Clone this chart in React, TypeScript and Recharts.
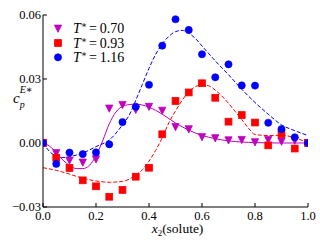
import React from 'react';
import {
  ComposedChart,
  Label,
  Legend,
  Line,
  Scatter,
  XAxis,
  YAxis,
} from 'recharts';

// measured points, x2 = 0.00 .. 1.00 step 0.05
const X_POINTS = [
  0, 0.05, 0.1, 0.15, 0.2, 0.25, 0.3, 0.35, 0.4, 0.45, 0.5, 0.55, 0.6, 0.65,
  0.7, 0.75, 0.8, 0.85, 0.9, 0.95, 1.0,
];
const Y_T070 = [
  0, -0.0048, -0.0083, -0.0092, -0.0077, 0.0161, 0.0178, 0.0155, 0.0169,
  0.0151, 0.0074, 0.0064, 0.0027, 0.0022, 0.0012, 0.0014, 0.0003, 0.0014,
  0.0006, 0.0011, 0,
];
const Y_T093 = [
  0, -0.0069, -0.0117, -0.0175, -0.0203, -0.0252, -0.022, -0.0158, -0.0116,
  0.0041, 0.0197, 0.0237, 0.028, 0.0212, 0.01, 0.0131, 0.0096, -0.0011,
  0.0042, -0.0026, 0,
];
const Y_T116 = [
  0, -0.0098, -0.0045, -0.0052, -0.0044, -0.0006, 0.0098, 0.017, 0.0273,
  0.0456, 0.058, 0.053, 0.0416, 0.0308, 0.0369, 0.027, 0.0269, 0.0095, 0.0065,
  0.0027, 0,
];

// fitted curves
const FIT_X_070 = [
  0, 0.025, 0.05, 0.075, 0.1, 0.125, 0.15, 0.175, 0.2, 0.225, 0.25, 0.275, 0.3,
  0.325, 0.35, 0.375, 0.4, 0.45, 0.5, 0.55, 0.6, 0.65, 0.7, 0.8, 0.9, 1.0,
];
const FIT_Y_070 = [
  0, -0.0015, -0.0045, -0.008, -0.0105, -0.012, -0.012, -0.0105, -0.006,
  0.001, 0.009, 0.0145, 0.0172, 0.018, 0.0182, 0.0178, 0.0168, 0.0135, 0.0094,
  0.006, 0.0036, 0.002, 0.001, 0.0002, 0, 0,
];
const FIT_X_093 = [
  0, 0.05, 0.1, 0.15, 0.2, 0.25, 0.3, 0.35, 0.375, 0.4, 0.425, 0.45, 0.475,
  0.5, 0.525, 0.55, 0.575, 0.6, 0.625, 0.65, 0.675, 0.7, 0.725, 0.75, 0.775,
  0.8, 0.85, 0.9, 0.95, 1.0,
];
const FIT_Y_093 = [
  -0.0116, -0.0128, -0.0146, -0.0165, -0.0178, -0.0184, -0.018, -0.015,
  -0.0125, -0.0085, -0.0035, 0.0025, 0.0095, 0.015, 0.02, 0.024, 0.0264,
  0.0272, 0.0268, 0.0248, 0.022, 0.0186, 0.0148, 0.011, 0.007, 0.004, 0.0035,
  0.0036, 0.0025, 0,
];
const FIT_X_116 = [
  0, 0.025, 0.05, 0.075, 0.1, 0.125, 0.15, 0.175, 0.2, 0.25, 0.3, 0.325, 0.35,
  0.375, 0.4, 0.425, 0.45, 0.475, 0.5, 0.525, 0.55, 0.575, 0.6, 0.65, 0.7,
  0.75, 0.8, 0.85, 0.9, 0.95, 1.0,
];
const FIT_Y_116 = [
  0, -0.004, -0.0062, -0.0068, -0.0064, -0.0057, -0.0047, -0.0033, -0.0017,
  0.0014, 0.0085, 0.013, 0.02, 0.0275, 0.035, 0.0415, 0.0465, 0.05, 0.0522,
  0.0528, 0.0515, 0.049, 0.0455, 0.0385, 0.032, 0.0252, 0.019, 0.0135, 0.0085,
  0.0058, 0.0035,
];

const X_TICKS = [0, 0.2, 0.4, 0.6, 0.8, 1.0];
const Y_TICKS = [-0.03, 0, 0.03, 0.06];
const LEGEND_LABELS = ['0.70', '0.93', '1.16'];

const MAGENTA = '#bf00bf';
const RED = '#ff0000';
const BLUE = '#0000ff';
const FONT = 'Liberation Serif, Times New Roman, DejaVu Serif, serif';

const zip = (xs: number[], ys: number[]) => xs.map((x, i) => ({ x, y: ys[i] }));

const pts070 = zip(X_POINTS, Y_T070);
const pts093 = zip(X_POINTS, Y_T093);
const pts116 = zip(X_POINTS, Y_T116);
const fit070 = zip(FIT_X_070, FIT_Y_070);
const fit093 = zip(FIT_X_093, FIT_Y_093);
const fit116 = zip(FIT_X_116, FIT_Y_116);

const TICK = { fontSize: 12.5, fill: '#000', style: { fontFamily: FONT } };

function Tri({ cx, cy, color }: any) {
  const s = 3.6;
  return (
    <polygon
      points={`${cx - s},${cy - s} ${cx + s},${cy - s} ${cx},${cy + s}`}
      fill={color}
      stroke={color}
      strokeWidth={0.8}
    />
  );
}

function Sq({ cx, cy, color }: any) {
  const s = 3.4;
  return (
    <rect x={cx - s} y={cy - s} width={2 * s} height={2 * s} fill={color} stroke={color} strokeWidth={0.8} />
  );
}

function Dot({ cx, cy, color }: any) {
  return <circle cx={cx} cy={cy} r={3.6} fill={color} stroke={color} strokeWidth={0.6} />;
}

const fmtY = (v: number) => (v < 0 ? '\u2212' : '') + Math.abs(v).toFixed(2);

function LegendBox() {
  const shapes = [
    (cy: number) => <Tri cx={10} cy={cy} color={MAGENTA} />,
    (cy: number) => <Sq cx={10} cy={cy} color={RED} />,
    (cy: number) => <Dot cx={10} cy={cy} color={BLUE} />,
  ];
  return (
    <svg width={110} height={50} style={{ overflow: 'visible', fontFamily: FONT }}>
      {LEGEND_LABELS.map((lab, i) => {
        const cy = 10.7 + i * 14.3;
        return (
          <g key={lab}>
            {shapes[i](cy)}
            <text x={25} y={cy + 4.6} fontSize={14} fill="#000">
              <tspan fontStyle="italic">T</tspan>
              <tspan fontSize={9} dy={-5}>{'\u2217'}</tspan>
              <tspan dy={5} dx={2}>=</tspan>
              <tspan dx={3}>{lab}</tspan>
            </text>
          </g>
        );
      })}
    </svg>
  );
}

export default function App() {
  return (
    <div style={{ position: 'absolute', left: 0, top: 0, fontFamily: FONT }}>
      <ComposedChart
        width={320}
        height={240}
        margin={{ top: 15, right: 12, bottom: 0, left: 0 }}
        style={{ fontFamily: FONT }}
      >
        <XAxis
          dataKey="x"
          type="number"
          domain={[0, 1]}
          ticks={X_TICKS}
          tickFormatter={(v: number) => v.toFixed(1)}
          tick={TICK}
          height={33}
          tickSize={-4}
          tickMargin={8}
          stroke="#000"
          allowDataOverflow
        >
          <Label
            content={(props: any) => {
              const vb = props.viewBox || {};
              return (
                <text
                  x={vb.x + vb.width / 2 + 2}
                  y={233}
                  textAnchor="middle"
                  style={{ fontFamily: FONT }}
                  fontSize={13.5}
                  fill="#000"
                >
                  <tspan fontStyle="italic">x</tspan>
                  <tspan fontSize={9} dy={3}>2</tspan>
                  <tspan dy={-3}>(solute)</tspan>
                </text>
              );
            }}
          />
        </XAxis>
        <XAxis
          xAxisId="top"
          orientation="top"
          dataKey="x"
          type="number"
          domain={[0, 1]}
          ticks={X_TICKS}
          tick={() => <g />}
          height={0}
          tickSize={-4}
          stroke="#000"
          allowDataOverflow
        />
        <YAxis
          dataKey="y"
          type="number"
          domain={[-0.03, 0.06]}
          ticks={Y_TICKS}
          tickFormatter={fmtY}
          tick={TICK}
          width={43}
          tickSize={-4}
          tickMargin={6}
          stroke="#000"
          allowDataOverflow
        >
          <Label
            content={() => (
              <text x={13} y={103} fontSize={15} fill="#000" style={{ fontFamily: FONT }}>
                <tspan fontStyle="italic">c</tspan>
                <tspan fontSize={10} fontStyle="italic" dy={4.5}>p</tspan>
                <tspan fontSize={10} fontStyle="italic" dx={-5} dy={-14.5}>E</tspan>
                <tspan fontSize={10}>{'\u2217'}</tspan>
              </text>
            )}
          />
        </YAxis>
        <YAxis
          yAxisId="r"
          orientation="right"
          dataKey="y"
          type="number"
          domain={[-0.03, 0.06]}
          ticks={Y_TICKS}
          tick={() => <g />}
          width={0}
          tickSize={-4}
          stroke="#000"
          allowDataOverflow
        />
        <Legend
          layout="horizontal"
          verticalAlign="middle"
          align="center"
          wrapperStyle={{ left: 48, top: 18, width: 110, height: 50 }}
          content={() => <LegendBox />}
        />
        <Line
          data={fit070}
          dataKey="y"
          type="monotone"
          stroke={MAGENTA}
          strokeWidth={1}
          dot={false}
          activeDot={false}
          isAnimationActive={false}
          legendType="none"
        />
        <Line
          data={fit093}
          dataKey="y"
          type="monotone"
          stroke={RED}
          strokeWidth={1}
          strokeDasharray="4 2"
          dot={false}
          activeDot={false}
          isAnimationActive={false}
          legendType="none"
        />
        <Line
          data={fit116}
          dataKey="y"
          type="monotone"
          stroke={BLUE}
          strokeWidth={1}
          strokeDasharray="4 2"
          dot={false}
          activeDot={false}
          isAnimationActive={false}
          legendType="none"
        />
        <Scatter
          data={pts070}
          dataKey="y"
          isAnimationActive={false}
          shape={(p: any) => <Tri cx={p.cx} cy={p.cy} color={MAGENTA} />}
        />
        <Scatter
          data={pts093}
          dataKey="y"
          isAnimationActive={false}
          shape={(p: any) => <Sq cx={p.cx} cy={p.cy} color={RED} />}
        />
        <Scatter
          data={pts116}
          dataKey="y"
          isAnimationActive={false}
          shape={(p: any) => <Dot cx={p.cx} cy={p.cy} color={BLUE} />}
        />
      </ComposedChart>
    </div>
  );
}
